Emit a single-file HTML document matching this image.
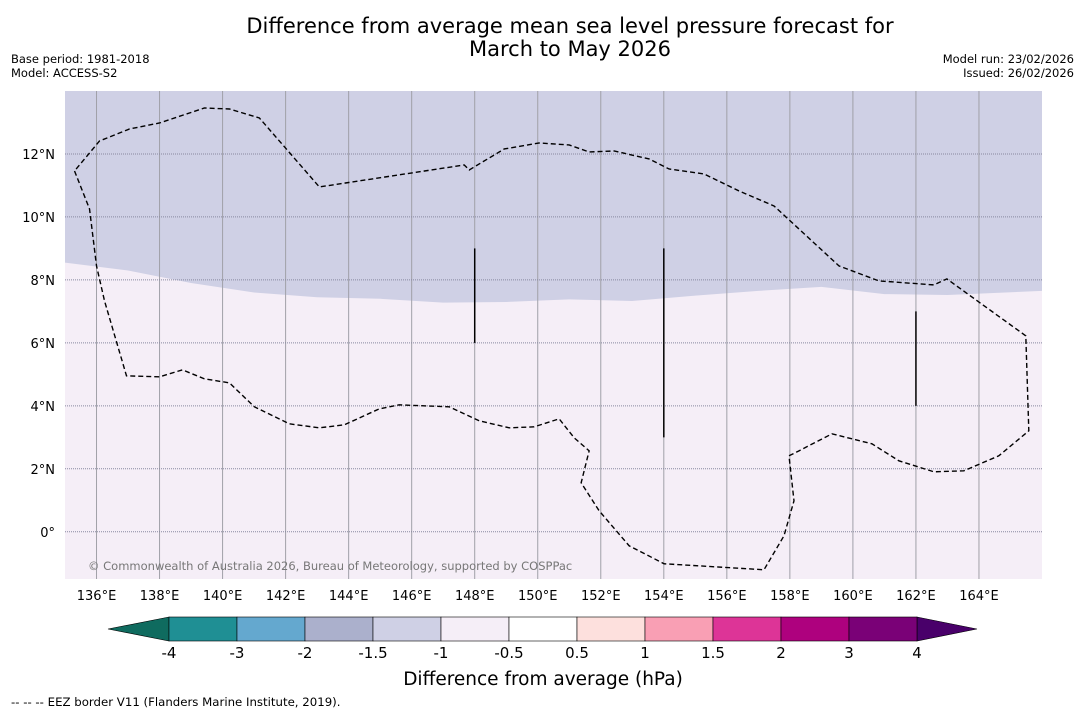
<!DOCTYPE html>
<html><head><meta charset="utf-8"><style>
body{margin:0;background:#fff;font-family:"DejaVu Sans","Liberation Sans",sans-serif}
#root{position:relative;width:1085px;height:713px;overflow:hidden;background:#fff}
.t{position:absolute;white-space:nowrap;color:#000}
</style></head><body><div id="root">
<div class="t" style="left:0;width:1140px;text-align:center;top:15px;font-size:21px;line-height:23px">Difference from average mean sea level pressure forecast for<br>March to May 2026</div>
<div class="t" style="left:11px;top:52px;font-size:11.5px;line-height:14px">Base period: 1981-2018<br>Model: ACCESS-S2</div>
<div class="t" style="right:11px;top:52px;font-size:11.5px;line-height:14px;text-align:right">Model run: 23/02/2026<br>Issued: 26/02/2026</div>
<svg id="map" width="1085" height="713" style="position:absolute;left:0;top:0"></svg>
<div class="t" style="left:11px;top:695px;font-size:11.75px">--  --  -- EEZ border V11 (Flanders Marine Institute, 2019).</div>
</div>
<script>
const lonTicks=[136,138,140,142,144,146,148,150,152,154,156,158,160,162,164];
const latTicks=[12,10,8,6,4,2,0];
const boundaryLon=[135,137,139,141,143,145,147,149,151,153,155,157,159,161,163,166];
const boundaryLat=[8.55,8.3,7.9,7.6,7.45,7.4,7.28,7.3,7.38,7.33,7.5,7.65,7.78,7.55,7.52,7.65];
const eezPts=[[75,170],[90,208],[97,265],[105,300],[127,375],[160,376],[183,369],[205,378],[230,382],[255,406],[290,423],[320,427],[345,424],[380,408],[400,404],[450,406],[480,420],[510,427],[535,426],[560,418],[575,437],[590,450],[582,482],[600,510],[630,545],[665,563],[765,569],[785,535],[795,500],[790,455],[800,450],[833,433],[873,443],[900,460],[935,471],[965,470],[1000,455],[1030,430],[1027,335],[948,278],[935,284],[880,280],[840,265],[775,205],[740,190],[705,173],[670,168],[650,158],[615,150],[590,151],[570,144],[540,142],[505,148],[470,169],[465,164],[320,186],[260,117],[230,108],[205,107],[160,122],[130,128],[100,140],[75,170]].map(p=>[136+(p[0]-97)/31.54,12-(p[1]-153)/31.5]);
const segLon=[148,154,162];const segTop=[9,9,7];const segBot=[6,3,4];
const cbLevels=[-4,-3,-2,-1.5,-1,-0.5,0.5,1,1.5,2,3,4];
const cbColors=["#1f8f94","#64a8cf","#abb0cc","#cfd0e5","#f5eef7","#ffffff","#fde0dd","#f99fb4","#dd3497","#ae017e","#7a0177"];
const X0=65,X1=1042,Y0=91,Y1=579;
const FF='DejaVu Sans, Liberation Sans, sans-serif';
const xS=l=>X0+(l-135)/(166-135)*(X1-X0);
const yS=l=>Y0+(14-l)/(14+1.5)*(Y1-Y0);
const svg=document.getElementById('map');const NS="http://www.w3.org/2000/svg";
function mk(t,a,p){const e=document.createElementNS(NS,t);for(const k in a)e.setAttribute(k,a[k]);(p||svg).appendChild(e);return e;}
let e=mk('rect',{x:X0,y:Y0,width:X1-X0,height:Y1-Y0,fill:'#f5eef7'});


let d='M'+X0+','+Y0+' L'+X1+','+Y0;
for(let i=boundaryLon.length-1;i>=0;i--)d+=' L'+xS(boundaryLon[i])+','+yS(boundaryLat[i]);
e=mk('path',{d:d+'Z',fill:'#cfd0e5'});


lonTicks.forEach(l=>{const x=xS(l);
e=mk('line',{x1:x,x2:x,y1:Y0,y2:Y1,stroke:'#a0a0a8','stroke-width':1});


e=mk('text',{x:x,y:600,'text-anchor':'middle','font-size':13,'font-family':FF});e.textContent=l+'°E';

});
latTicks.forEach(l=>{const y=yS(l);
e=mk('line',{x1:X0,x2:X1,y1:y,y2:y,stroke:'#8888a0','stroke-width':1,'stroke-dasharray':'1,1'});


e=mk('text',{x:55,y:y+5,'text-anchor':'end','font-size':13,'font-family':FF});e.textContent=l===0?'0°':l+'°N';

});
e=mk('path',{d:'M'+eezPts.map(p=>xS(p[0])+','+yS(p[1])).join(' L'),fill:'none',stroke:'#000','stroke-width':1.4,'stroke-dasharray':'5,3'});


segLon.forEach((l,i)=>{e=mk('line',{x1:xS(l),x2:xS(l),y1:yS(segTop[i]),y2:yS(segBot[i]),stroke:'#000','stroke-width':1.5});

});
e=mk('text',{x:88,y:570,'font-size':11.5,fill:'#777','font-family':FF});e.textContent='© Commonwealth of Australia 2026, Bureau of Meteorology, supported by COSPPac';


const CB0=169,CB1=917,CBY=617,CBH=24;const n=cbColors.length;const w=(CB1-CB0)/n;
e=mk('polygon',{points:`${CB0},${CBY} 108,${CBY+CBH/2} ${CB0},${CBY+CBH}`,fill:'#0f6b5f',stroke:'#000','stroke-width':0.6});


e=mk('polygon',{points:`${CB1},${CBY} 977,${CBY+CBH/2} ${CB1},${CBY+CBH}`,fill:'#49006a',stroke:'#000','stroke-width':0.6});


cbColors.forEach((c,i)=>{e=mk('rect',{x:CB0+i*w,y:CBY,width:w,height:CBH,fill:c,stroke:'#000','stroke-width':0.6});

});
cbLevels.forEach((v,i)=>{e=mk('text',{x:CB0+i*w,y:658,'text-anchor':'middle','font-size':15,'font-family':FF});e.textContent=String(v);

});
e=mk('text',{x:543,y:685,'text-anchor':'middle','font-size':18.5,'font-family':FF});e.textContent='Difference from average (hPa)';


</script></body></html>
